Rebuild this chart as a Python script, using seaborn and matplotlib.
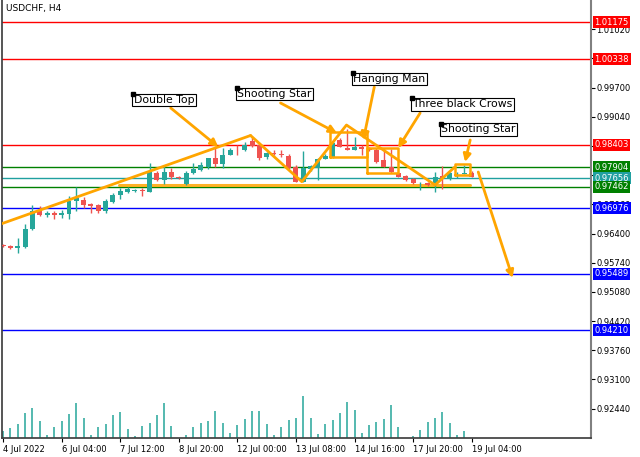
import numpy as np
import pandas as pd
import matplotlib
matplotlib.use("Agg")
import matplotlib.pyplot as plt
from matplotlib import transforms
import seaborn as sns

# USDCHF H4 candles
opens = [0.96141, 0.96107, 0.96062, 0.96096, 0.96503, 0.96933, 0.96820, 0.96854, 0.96820, 0.96842,
         0.97125, 0.97170, 0.97068, 0.97035, 0.96899, 0.97114, 0.97261, 0.97340, 0.97356, 0.97396,
         0.97351, 0.97770, 0.97600, 0.97781, 0.97672, 0.97514, 0.97763, 0.97838, 0.97912, 0.98116,
         0.97966, 0.98177, 0.98301, 0.98279, 0.98493, 0.98392, 0.98138, 0.98222, 0.98199, 0.98161,
         0.97912, 0.97573, 0.97860, 0.97890, 0.98086, 0.98125, 0.98516, 0.98342, 0.98290, 0.98365,
         0.98324, 0.98290, 0.98064, 0.97912, 0.97763, 0.97702, 0.97634, 0.97510, 0.97537, 0.97537,
         0.97691, 0.97627, 0.97691, 0.97740, 0.97770]
highs = [0.96164, 0.96130, 0.96288, 0.96616, 0.97046, 0.97023, 0.96910, 0.96899, 0.96933, 0.97238,
         0.97464, 0.97227, 0.97091, 0.97068, 0.97182, 0.97317, 0.97419, 0.97453, 0.97408, 0.97424,
         0.97996, 0.97815, 0.97928, 0.97883, 0.97691, 0.97815, 0.97985, 0.98012, 0.98120, 0.98328,
         0.98328, 0.98335, 0.98403, 0.98471, 0.98573, 0.98426, 0.98245, 0.98290, 0.98301, 0.98199,
         0.97951, 0.98267, 0.97951, 0.98116, 0.98199, 0.98493, 0.98561, 0.98765, 0.98584, 0.98403,
         0.98358, 0.98328, 0.98335, 0.98312, 0.97792, 0.97724, 0.97657, 0.97573, 0.97566, 0.97799,
         0.97928, 0.97799, 0.97792, 0.97951, 0.97804]
lows = [0.96096, 0.96051, 0.95953, 0.96062, 0.96480, 0.96797, 0.96763, 0.96740, 0.96752, 0.96729,
        0.96910, 0.96989, 0.96865, 0.96876, 0.96876, 0.97080, 0.97182, 0.97317, 0.97340, 0.97249,
        0.97340, 0.97589, 0.97521, 0.97623, 0.97645, 0.97498, 0.97758, 0.97826, 0.97853, 0.97912,
        0.97890, 0.98166, 0.98166, 0.98267, 0.98358, 0.98064, 0.98086, 0.98177, 0.98132, 0.97871,
        0.97555, 0.97566, 0.97815, 0.97611, 0.98075, 0.98109, 0.98358, 0.98279, 0.98279, 0.98177,
        0.98267, 0.97989, 0.97905, 0.97770, 0.97679, 0.97589, 0.97521, 0.97385, 0.97476, 0.97333,
        0.97408, 0.97611, 0.97657, 0.97736, 0.97679]
closes = [0.96118, 0.96062, 0.96107, 0.96514, 0.96899, 0.96820, 0.96854, 0.96820, 0.96854, 0.97136,
          0.97193, 0.97046, 0.97023, 0.96899, 0.97125, 0.97261, 0.97363, 0.97408, 0.97392, 0.97356,
          0.97781, 0.97600, 0.97781, 0.97668, 0.97652, 0.97776, 0.97867, 0.97951, 0.98116, 0.97966,
          0.98177, 0.98290, 0.98279, 0.98414, 0.98380, 0.98120, 0.98215, 0.98199, 0.98177, 0.97890,
          0.97559, 0.97876, 0.97935, 0.98086, 0.98161, 0.98437, 0.98369, 0.98290, 0.98365, 0.98306,
          0.98279, 0.98025, 0.97912, 0.97785, 0.97686, 0.97611, 0.97537, 0.97532, 0.97498, 0.97686,
          0.97657, 0.97763, 0.97713, 0.97770, 0.97686]
volumes = [20, 30, 42, 75, 90, 50, 8, 32, 52, 72, 104, 60, 8, 32, 42, 69, 77, 27, 5, 36,
           44, 69, 104, 36, 1, 8, 33, 44, 52, 82, 44, 14, 38, 57, 80, 82, 42, 8, 32, 55,
           60, 126, 60, 11, 42, 54, 74, 107, 83, 14, 39, 47, 57, 98, 33, 1, 5, 24, 49, 59,
           79, 44, 8, 21, 1]

tick_bars = [0, 8, 16, 24, 32, 40, 48, 56, 64]
tick_labels = ["4 Jul 2022", "6 Jul 04:00", "7 Jul 12:00", "8 Jul 20:00", "12 Jul 00:00",
               "13 Jul 08:00", "14 Jul 16:00", "17 Jul 20:00", "19 Jul 04:00"]

levels = [1.01175, 1.00338, 0.98403, 0.97904, 0.97656, 0.97462, 0.96976, 0.95489, 0.94210]
level_colors = ["#ff0000", "#ff0000", "#ff0000", "#008000", "#20a0a0", "#008000",
                "#0000ff", "#0000ff", "#0000ff"]

# pattern drawings: (bar, price) anchors
trend_up = [(-0.5, 0.96605), (33.8, 0.98618)]
zigzag = [(33.8, 0.98618), (40.8, 0.97573), (46.9, 0.98855), (59.0, 0.97498), (61.7, 0.97905)]
neckline = [(15.8, 0.97498), (63.8, 0.97498)]
boxes = [(44.7, 49.7, 0.98125, 0.98704), (49.7, 53.9, 0.97776, 0.98328), (61.7, 63.8, 0.97724, 0.97966)]
labels = ["Double Top", "Shooting Star", "Hanging Man", "Three black Crows", "Shooting Star"]
label_pos = [(17.8, 0.99557), (31.9, 0.99692), (47.8, 1.00032), (55.8, 0.99455), (59.8, 0.98889)]
arrows = [((22.9, 0.99240), (29.4, 0.98358)),
          ((37.9, 0.99353), (45.6, 0.98674)),
          ((50.7, 0.99715), (49.2, 0.98516)),
          ((56.96, 0.99127), (53.96, 0.98335)),
          ((63.8, 0.98516), (63.1, 0.98018)),
          ((64.9, 0.97792), (69.6, 0.95395))]

sns.set_theme(style="white")
plt.rcParams["font.family"] = ["DejaVu Sans"]

df = pd.DataFrame({"open": opens, "high": highs, "low": lows, "close": closes, "volume": volumes})
df["bar"] = np.arange(len(df))
up_col, dn_col = "#26a69a", "#ef5350"
colors = np.where(df["close"] >= df["open"], up_col, dn_col)
orange = "#ffa500"

fig = plt.figure(figsize=(6.4, 4.57), dpi=100)
rect = [2 / 640, 19 / 457, 589 / 640, 438 / 457]
ax = fig.add_axes(rect)

# volumes overlaid at the bottom, on their own invisible axes
axv = fig.add_axes(rect, sharex=ax, zorder=-1)
axv.vlines(df["bar"], 0, df["volume"], colors=up_col, lw=1.1)
axv.set_ylim(0, 126 * 438 / 42)
axv.axis("off")
ax.set_zorder(1)
ax.patch.set_alpha(0)

# levels
for lvl, c in zip(levels, level_colors):
    ax.axhline(lvl, color=c, lw=1, zorder=1)

# candles
ax.vlines(df["bar"], df["low"], df["high"], colors=colors, lw=1, zorder=3)
body = (df["close"] - df["open"]).abs().clip(lower=0.00004)
ax.bar(df["bar"], body, bottom=df[["open", "close"]].min(axis=1), width=0.68,
       color=colors, linewidth=0, zorder=3)

# drawings
sns.lineplot(x=[p[0] for p in neckline], y=[p[1] for p in neckline], color=orange,
             lw=2.2, alpha=0.85, zorder=2, ax=ax)
ax.plot(*zip(*trend_up), color=orange, lw=2, zorder=4)
ax.plot(*zip(*zigzag), color=orange, lw=2, zorder=4)
for x0, x1, y0, y1 in boxes:
    ax.plot([x0, x1, x1, x0, x0], [y0, y0, y1, y1, y0], color=orange, lw=1.8, zorder=4)
for start, end in arrows:
    ax.annotate("", xy=end, xytext=start,
                arrowprops=dict(arrowstyle="-|>", color=orange, lw=2, mutation_scale=11,
                                shrinkA=0, shrinkB=0), zorder=5)
for txt, (x, y) in zip(labels, label_pos):
    ax.text(x + 0.05, y - 0.0002, txt, ha="left", va="top", fontsize=7.8,
            family=["Liberation Sans Narrow", "DejaVu Sans"], color="black", zorder=6,
            bbox=dict(boxstyle="square,pad=0.12", fc="white", ec="black", lw=0.8))
    ax.plot(x, y, marker="s", color="black", ms=3, zorder=7)

ax.set_xlim(-0.15, 80.3)
ax.set_ylim(0.91775, 1.01683)

# price ticks; the ones fully covered by level tags get no text
yt = [0.92440 + 0.0066 * k for k in range(14)]
hidden = {"1.00360", "0.98380", "0.97720"}
ax.set_yticks(yt)
ax.set_yticklabels(["" if f"{v:.5f}" in hidden else f"{v:.5f}" for v in yt])
ax.yaxis.tick_right()
ax.tick_params(axis="y", left=False, right=True, length=3, width=0.8, pad=1,
               labelsize=6, colors="black")
ax.set_xticks(tick_bars)
ax.set_xticklabels(tick_labels, ha="left")
ax.tick_params(axis="x", bottom=True, length=3, width=0.8, pad=2, labelsize=6, colors="black")
ax.set_xlabel("")
ax.set_ylabel("")

ax.spines["top"].set_visible(False)
ax.spines["left"].set_color("#404040")
ax.spines["bottom"].set_color("#404040")
ax.spines["right"].set_color("#808080")
ax.spines["right"].set_linewidth(1.5)

tr = transforms.blended_transform_factory(ax.transAxes, ax.transData)
for lvl, c in zip(levels, level_colors):
    ax.text(1.006, lvl, f"{lvl:.5f}", transform=tr, ha="left", va="center", fontsize=6,
            color="white", clip_on=False, zorder=10,
            bbox=dict(boxstyle="square,pad=0.18", fc=c, ec="none"))

ax.text(0.006, 0.992, "USDCHF, H4", transform=ax.transAxes, ha="left", va="top",
        fontsize=6.5, color="black")

fig.savefig("out.png", dpi=100)
